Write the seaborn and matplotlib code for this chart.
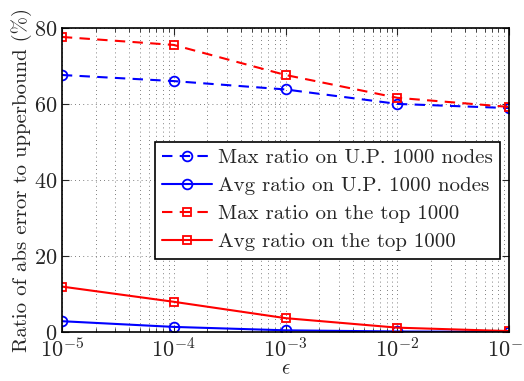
import matplotlib
matplotlib.use("Agg")
import matplotlib.pyplot as plt
import seaborn as sns
import pandas as pd
import numpy as np
from matplotlib.ticker import LogLocator, NullFormatter

eps = [1e-5, 1e-4, 1e-3, 1e-2, 1e-1]
max_up = [67.6, 66.0, 63.8, 60.0, 58.9]
avg_up = [2.9, 1.4, 0.5, 0.2, 0.1]
max_top = [77.6, 75.5, 67.6, 61.6, 59.2]
avg_top = [12.0, 8.0, 3.7, 1.2, 0.3]

labels = ["Max ratio on U.P. 1000 nodes", "Avg ratio on U.P. 1000 nodes",
          "Max ratio on the top 1000", "Avg ratio on the top 1000"]
series = [max_up, avg_up, max_top, avg_top]
colors = ["#0000ff", "#0000ff", "#ff0000", "#ff0000"]
markers = ["o", "o", "s", "s"]
dashes = [(5, 3.5), "", (5, 3.5), ""]

df = pd.DataFrame({
    "eps": np.tile(eps, 4),
    "val": np.concatenate(series),
    "name": np.repeat(labels, len(eps)),
})

sns.set_style("ticks")
plt.rcParams["font.family"] = ["cmr10"]
plt.rcParams["mathtext.fontset"] = "cm"
plt.rcParams["axes.formatter.use_mathtext"] = True

fig, ax = plt.subplots(figsize=(5.24, 3.81), dpi=100)
fig.subplots_adjust(left=0.118, right=0.972, top=0.927, bottom=0.128)

for lab, c, m, d in zip(labels, colors, markers, dashes):
    sub = df[df["name"] == lab]
    sns.lineplot(data=sub, x="eps", y="val", ax=ax, color=c, marker=m,
                 markersize=7 if m == "o" else 6, markerfacecolor="none",
                 markeredgecolor=c, markeredgewidth=1.3, linewidth=1.5,
                 label=lab, dashes=False)
    line = ax.lines[-1]
    if d:
        line.set_dashes(d)

ax.set_xscale("log")
ax.set_xlim(1e-5, 1e-1)
ax.set_ylim(0, 80)
ax.set_yticks([0, 20, 40, 60, 80])
ax.xaxis.set_minor_locator(LogLocator(base=10, subs=np.arange(2, 10), numticks=20))
ax.xaxis.set_minor_formatter(NullFormatter())

grid_style = dict(linestyle=(0, (1, 4)), color="#555555", linewidth=0.6)
ax.grid(True, which="major", axis="both", **grid_style)
ax.grid(True, which="minor", axis="x", **grid_style)

ax.tick_params(direction="in", which="both", top=True, right=True, labelsize=16)
ax.tick_params(which="major", length=5)
ax.tick_params(which="minor", length=3)
for s in ax.spines.values():
    s.set_linewidth(1.2)
    s.set_color("black")

ax.set_xlabel(r"$\epsilon$", fontsize=15, labelpad=-1)
ax.set_ylabel("Ratio of abs error to upperbound (%)", fontsize=15, labelpad=1)

leg = ax.legend(loc="center right", bbox_to_anchor=(0.98, 0.434), fontsize=15,
                frameon=True, fancybox=False, edgecolor="black", framealpha=1,
                handlelength=2.4, borderpad=0.35, labelspacing=0.45, handletextpad=0.3,
                borderaxespad=0)
leg.get_frame().set_linewidth(1.2)

fig.savefig("out.png", dpi=100)
